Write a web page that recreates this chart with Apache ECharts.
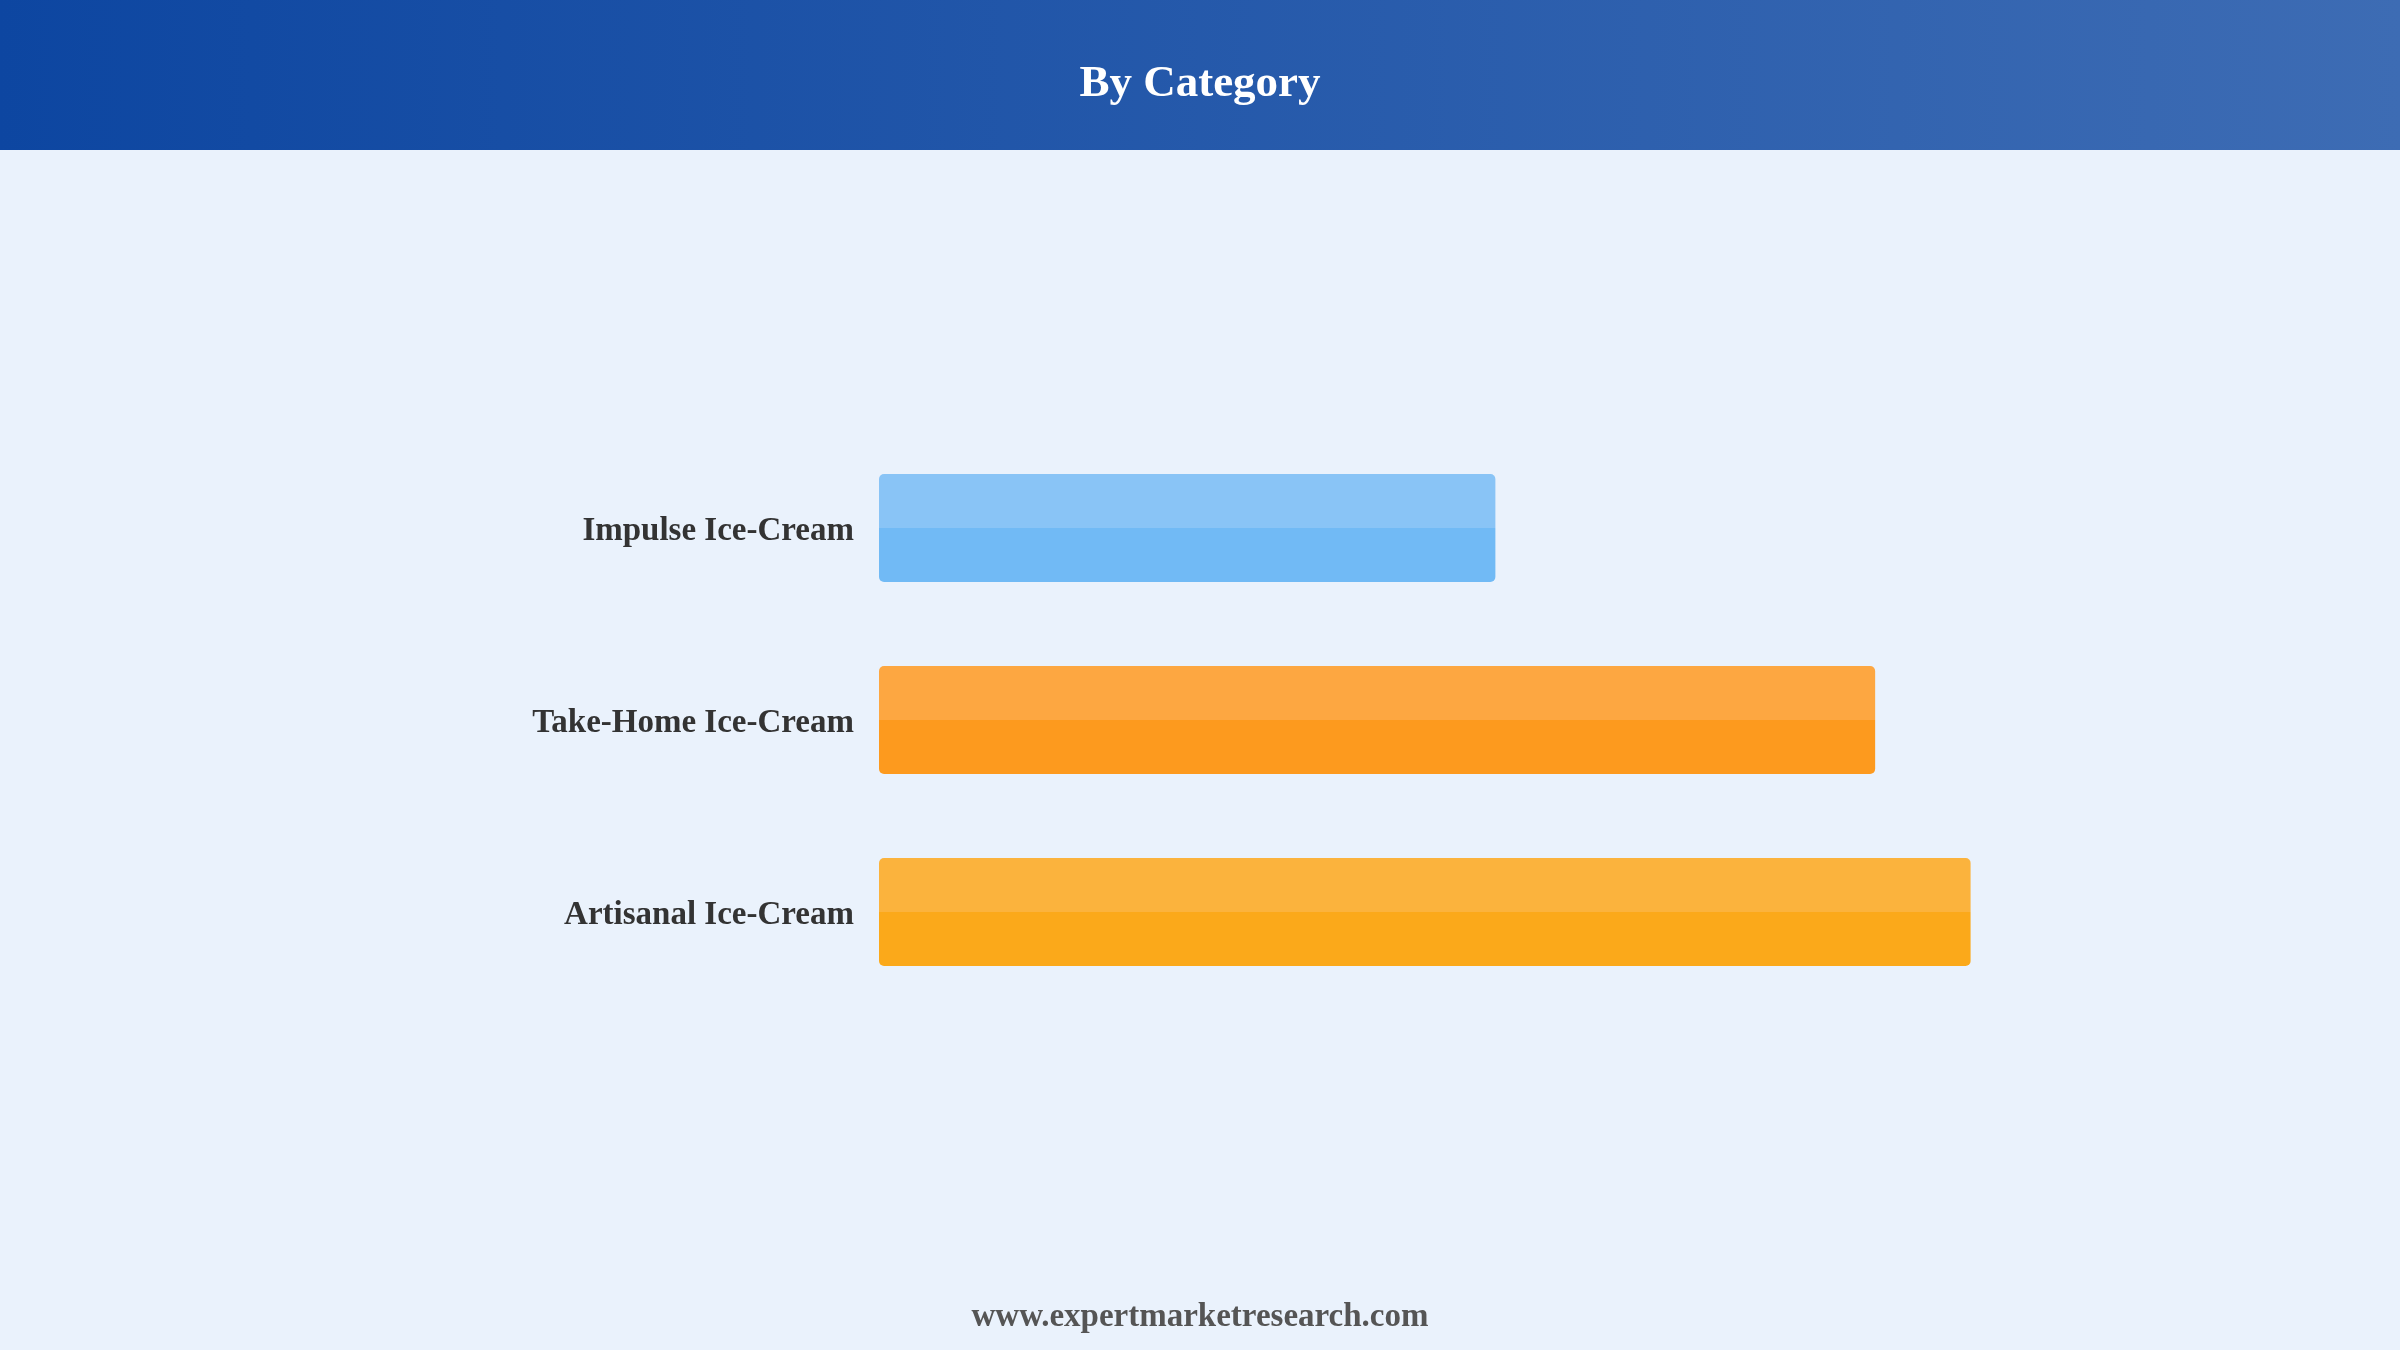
<!DOCTYPE html>
<html>
<head>
<meta charset="utf-8">
<script src="https://cdn.jsdelivr.net/npm/echarts@6/dist/echarts.min.js"></script>
<style>
html,body{margin:0;padding:0;background:#EAF2FC;}
#chart{width:2400px;height:1350px;}
</style>
</head>
<body>
<div id="chart"></div>
<script>
const categories = ['Impulse Ice-Cream', 'Take-Home Ice-Cream', 'Artisanal Ice-Cream'];
const values = [31, 50.1, 54.9];
const topColors = ['#89C4F6', '#FDA741', '#FBB33D'];
const bottomColors = ['#71BAF5', '#FD9A1E', '#FBA91A'];
const titleText = 'By Category';
const footerText = 'www.expertmarketresearch.com';

const chart = echarts.init(document.getElementById('chart'), null, {renderer: 'canvas'});
const serif = '"Liberation Serif", "Times New Roman", serif';

const data = values.map((v, i) => ({
  value: v,
  itemStyle: {
    color: new echarts.graphic.LinearGradient(0, 0, 0, 1, [
      {offset: 0, color: topColors[i]},
      {offset: 0.5, color: topColors[i]},
      {offset: 0.5, color: bottomColors[i]},
      {offset: 1, color: bottomColors[i]}
    ])
  }
}));

chart.setOption({
  backgroundColor: '#EAF2FC',
  animation: false,
  graphic: [
    {
      type: 'rect',
      left: 0, top: 0, z: 0,
      shape: {width: 2400, height: 150},
      style: {
        fill: new echarts.graphic.LinearGradient(0, 0, 1, 0, [
          {offset: 0, color: '#0D46A1'},
          {offset: 1, color: '#3D6CB4'}
        ])
      }
    },
    {
      type: 'text',
      left: 'center', top: 1301,
      style: {
        text: footerText,
        font: 'bold 33px ' + serif,
        fill: '#555555'
      }
    }
  ],
  title: {
    text: titleText,
    left: 'center',
    top: 57,
    textStyle: {
      color: '#ffffff',
      fontFamily: serif,
      fontWeight: 'bold',
      fontSize: 45
    }
  },
  grid: {
    left: 879,
    right: 328,
    top: 432,
    bottom: 342,
    containLabel: false
  },
  xAxis: {
    type: 'value',
    min: 0,
    max: 60,
    show: false
  },
  yAxis: {
    type: 'category',
    data: categories,
    inverse: true,
    axisLine: {show: false},
    axisTick: {show: false},
    splitLine: {show: false},
    axisLabel: {
      margin: 25,
      formatter: '{a|{value}}',
      rich: {
        a: {
          padding: [7, 0, 0, 0],
          color: '#333333',
          fontFamily: serif,
          fontWeight: 'bold',
          fontSize: 33
        }
      }
    }
  },
  series: [{
    type: 'bar',
    data: data,
    barWidth: 108,
    itemStyle: {borderRadius: 5}
  }]
});
</script>
</body>
</html>
